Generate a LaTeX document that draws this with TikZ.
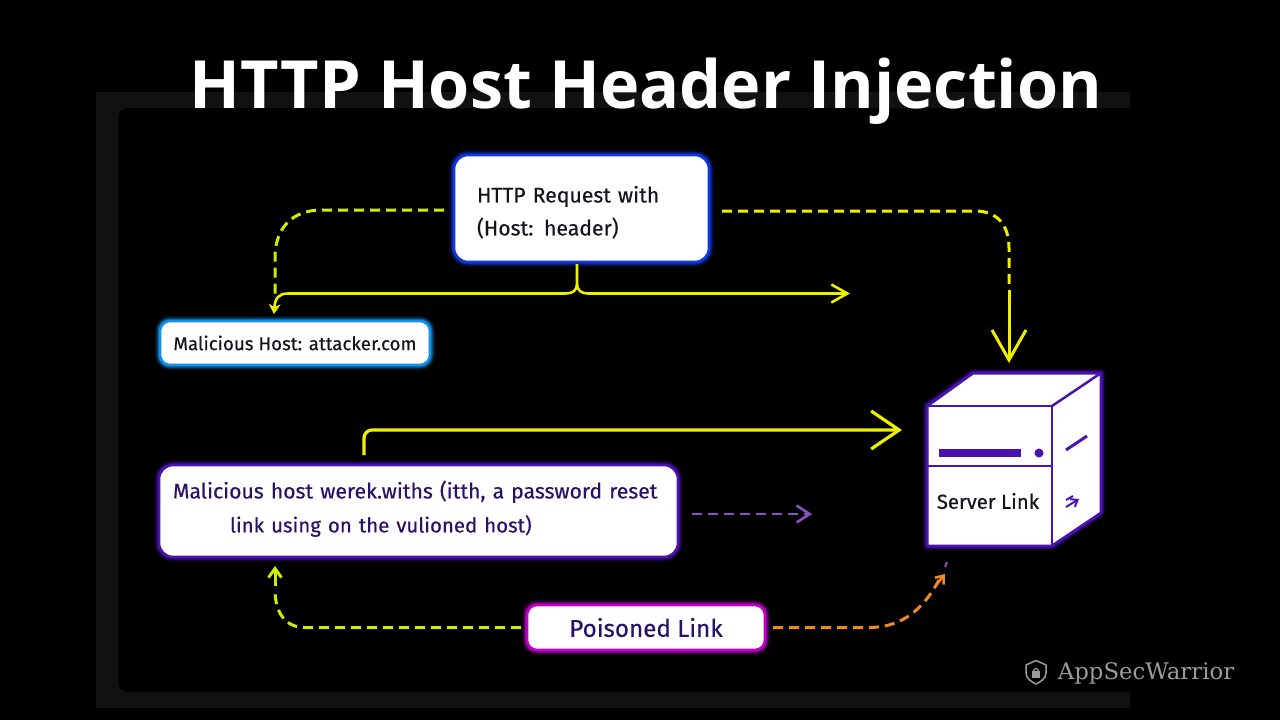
\documentclass[tikz,border=0pt]{standalone}
\usepackage{fontspec}
\setmainfont[FakeBold=0.35]{Fira Sans}
\newfontfamily\titlefont{Open Sans}
\newfontfamily\markfont{DejaVu Serif}
\usetikzlibrary{arrows.meta}
\definecolor{dy}{HTML}{EEF000}
\definecolor{dg}{HTML}{C8F000}
\definecolor{dp}{HTML}{8A4FC0}
\definecolor{dor}{HTML}{F08A1E}
\definecolor{ink}{HTML}{14141E}
\definecolor{vink}{HTML}{2A1066}
\definecolor{vio}{HTML}{4A12B0}
\definecolor{band}{HTML}{111111}
\definecolor{markc}{HTML}{9C9C9C}
\definecolor{mag}{HTML}{C000C8}
\definecolor{skyb}{HTML}{1090E8}
\definecolor{deepb}{HTML}{1038E0}
\tikzset{
  glowbox/.style={fill=white,rounded corners=#1,line width=2.6pt,inner sep=0pt,outer sep=0pt},
  barb/.style n args={3}{-{Straight Barb[length=#1,width=#2,line width=#3]}},
}
\newcommand{\glowrect}[4]{%
  \foreach \gw/\gop in {10/.14,7/.25,5/.4}{
    \draw[#4,line width=\gw pt,opacity=\gop,rounded corners=#3] (#1) rectangle (#2);
  }
}
\begin{document}
\begin{tikzpicture}[x=1pt,y=-1pt]
\useasboundingbox (0,0) rectangle (1280,720);
\fill[black] (0,0) rectangle (1280,720);
\fill[band] (96,92) rectangle (1130,708);
\fill[black,rounded corners=10pt] (118,108) rectangle (1160,692);
\fill[black] (1130,92) rectangle (1280,720);

\node[font=\titlefont\bfseries\fontsize{66.5}{68}\selectfont,text=white,anchor=base] (title) at (646,108) {HTTP Host Header Injection};

% glows
\glowrect{454,155}{709,262}{14pt}{deepb}
\glowrect{160,321}{430,365}{10pt}{skyb}
\glowrect{159,465}{678,557}{14pt}{vio}
\glowrect{527,605}{765,650}{10pt}{mag}

\node[glowbox=14pt,draw=deepb,minimum width=255pt,minimum height=107pt,anchor=north west,align=left,text=ink,text width=209pt,inner xsep=23pt,font=\fontsize{21.2}{33}\selectfont] (req) at (454,155) {\rule{0pt}{24pt}HTTP Request with\\(Host: header)};
\node[glowbox=10pt,draw=skyb,minimum width=270pt,minimum height=44pt,anchor=north west,text=ink,font=\fontsize{18.7}{20}\selectfont] (mal) at (160,321) {Malicious Host: attacker.com};
\node[glowbox=14pt,draw=vio,minimum width=519pt,minimum height=92pt,anchor=north west,align=left,text=vink,text width=491pt,inner xsep=14pt,font=\fontsize{21.2}{34}\selectfont] (reset) at (159,465) {Malicious host werek.withs (itth, a password reset\\\hspace*{57pt}{\fontsize{20.4}{34}\selectfont link using on the vulioned host)}\rule[-9pt]{0pt}{9pt}};
\node[glowbox=10pt,draw=mag,minimum width=238pt,minimum height=45pt,anchor=north west,text=vink,font=\fontsize{24.2}{26}\selectfont] (poison) at (527,605) {Poisoned Link};

% server cube
\coordinate (s1) at (927,406);
\coordinate (s2) at (1052,406);
\coordinate (s3) at (1052,546);
\coordinate (s4) at (927,546);
\coordinate (s5) at (973,373);
\coordinate (s6) at (1101,373);
\coordinate (s7) at (1101,513);
\foreach \gw/\gop in {9/.18,6/.35}{
  \draw[vio,line width=\gw pt,opacity=\gop,line join=round] (s1)--(s5)--(s6)--(s7)--(s3)--(s4)--cycle;
}
\fill[white] (s1)--(s5)--(s6)--(s7)--(s3)--(s4)--cycle;
\draw[vio,line width=3pt,line join=round] (s1)--(s5)--(s6)--(s7)--(s3)--(s4)--cycle;
\draw[vio,line width=2.5pt] (s1)--(s2)--(s3);
\draw[vio,line width=2.5pt] (s2)--(s6);
\draw[vio,line width=2pt] (927,466)--(1052,466);
\fill[vio] (939,449) rectangle (1021,457);
\fill[vio] (1039,453) circle (4.5pt);
\draw[vio,line width=3pt] (1066,450)--(1087,436);
\draw[vio,line width=2pt,-{Straight Barb[length=6pt,width=9pt,line width=2pt]}] (1066,507)--(1079,499);
\draw[vio,line width=2pt] (1066,500)--(1073,496);
\node[text=ink,font=\fontsize{20.3}{22}\selectfont] (srv) at (988,501) {Server Link};

% connectors
\draw[dg,line width=3pt,dash pattern=on 10pt off 6pt] ([xshift=-10pt,yshift=-1.5pt]req.west) -- (322,210) .. controls (292,210) and (275,228) .. (275,258) -- (275,298);
\draw[dy,line width=2.6pt,-{Stealth[length=10pt,width=12pt]}] ([xshift=-4.5pt,yshift=-2pt]req.south) -- (577,284) .. controls (577,290) and (573,293.5) .. (566,293.5) -- (288,293.5) .. controls (279,293.5) and (275,298) .. ([xshift=-21pt,yshift=7pt]mal.north);
\draw[dy,line width=2.6pt,barb={16pt}{18pt}{2.6pt}] (577,284) .. controls (577,290) and (581,293.5) .. (588,293.5) -- (850,293.5);
\draw[dy,line width=3pt,dash pattern=on 10pt off 6pt] ([xshift=13pt,yshift=-2.5pt]req.east) -- (975,211) .. controls (998,211) and (1009,226) .. (1009,248) -- (1009,290);
\draw[dy,line width=3pt,barb={30pt}{34pt}{3pt}] (1009,290) -- ([xshift=82pt,yshift=43pt]s1);
\draw[dy,line width=3.2pt,rounded corners=8pt,barb={28pt}{38pt}{3.2pt}] ([xshift=-54.5pt,yshift=10pt]reset.north) -- (364,430) -- (902,430);
\draw[dp,line width=2.6pt,dash pattern=on 10pt off 6pt,barb={13pt}{17pt}{2.6pt}] ([xshift=14pt,yshift=-3pt]reset.east) -- (812,514);
\draw[dg,line width=3pt,dash pattern=on 10pt off 6pt] ([xshift=-6pt,yshift=0pt]poison.west) -- (305,627.5) .. controls (285,627.5) and (275,612) .. (275,590);
\draw[dg,line width=3pt,barb={9pt}{13pt}{3pt}] (275,586) -- ([xshift=-143.5pt,yshift=-9pt]reset.south);
\draw[dor,line width=3pt,dash pattern=on 10pt off 6pt] ([xshift=8pt,yshift=0pt]poison.east) -- (870,627.5) .. controls (905,627) and (925,606) .. (939,580);
\coordinate (sink) at (945,574);
\draw[dor,line width=2.6pt,barb={7pt}{11pt}{2.6pt}] (937,584) -- (sink);
\draw[dp,line width=2pt] (945,567) -- (947,562);

% mark
\node[text=markc,font=\markfont\fontsize{22.8}{24}\selectfont] (mark) at (1146,673) {AppSecWarrior};
\draw[markc,line width=1.5pt,line join=round] (1036,660.5) -- (1046,665) -- (1046,673) .. controls (1046,679) and (1040,682) .. (1036,684) .. controls (1032,682) and (1026,679) .. (1026,673) -- (1026,665) -- cycle;
\fill[markc] (1032,671) rectangle (1040,678);
\draw[markc,line width=1.2pt] (1033.5,671) arc (180:0:2.5pt);
\end{tikzpicture}
\end{document}
